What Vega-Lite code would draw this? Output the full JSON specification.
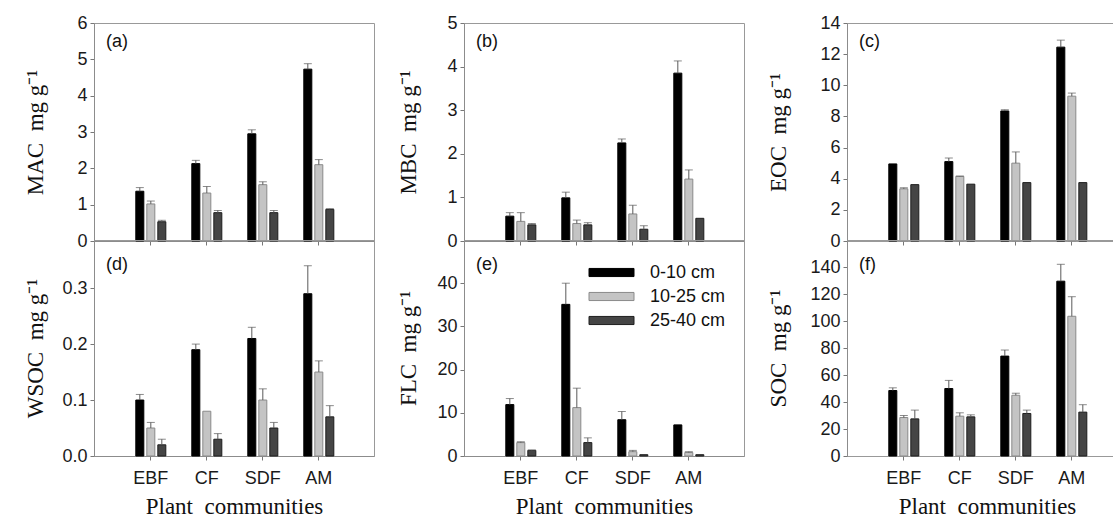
{
  "$schema": "https://vega.github.io/schema/vega-lite/v6.json",
  "background": "white",
  "padding": {"left": 23, "top": 13, "right": 0, "bottom": 0},
  "spacing": 217,
  "bounds": "flush",
  "resolve": {"scale": {"x": "independent", "y": "independent", "xOffset": "independent", "fill": "independent", "stroke": "independent"}},
  "config": {
    "view": {"stroke": "#999999", "strokeWidth": 1},
    "axis": {"labelFont": "Liberation Sans", "labelFontSize": 18, "labelColor": "#1a1a1a", "domainColor": "#8c8c8c", "tickColor": "#777777", "tickSize": 4, "grid": false, "titleFont": "Liberation Serif", "titleFontSize": 23, "titleFontWeight": "normal", "titleColor": "#111111", "labelPadding": 3, "labelOverlap": false},
    "axisY": {"titleBaseline": "alphabetic", "titleAngle": 270, "labelOverlap": false, "tickCount": 12},
    "title": {"anchor": "start", "frame": "group", "dx": 12, "baseline": "top", "fontSize": 18, "font": "Liberation Sans", "fontWeight": "normal", "color": "#111111"},
    "tick": {"thickness": 1}
  },
  "data": {"values": [
    {"p":"a","c":"EBF","d":"0-10 cm","v":1.37,"hi":1.47},{"p":"a","c":"EBF","d":"10-25 cm","v":1.02,"hi":1.10},{"p":"a","c":"EBF","d":"25-40 cm","v":0.53,"hi":0.57},
    {"p":"a","c":"CF","d":"0-10 cm","v":2.13,"hi":2.22},{"p":"a","c":"CF","d":"10-25 cm","v":1.32,"hi":1.50},{"p":"a","c":"CF","d":"25-40 cm","v":0.78,"hi":0.84},
    {"p":"a","c":"SDF","d":"0-10 cm","v":2.95,"hi":3.06},{"p":"a","c":"SDF","d":"10-25 cm","v":1.55,"hi":1.63},{"p":"a","c":"SDF","d":"25-40 cm","v":0.78,"hi":0.84},
    {"p":"a","c":"AM","d":"0-10 cm","v":4.73,"hi":4.88},{"p":"a","c":"AM","d":"10-25 cm","v":2.10,"hi":2.24},{"p":"a","c":"AM","d":"25-40 cm","v":0.87,"hi":0.89},
    {"p":"b","c":"EBF","d":"0-10 cm","v":0.57,"hi":0.65},{"p":"b","c":"EBF","d":"10-25 cm","v":0.45,"hi":0.65},{"p":"b","c":"EBF","d":"25-40 cm","v":0.37,"hi":0.40},
    {"p":"b","c":"CF","d":"0-10 cm","v":0.99,"hi":1.12},{"p":"b","c":"CF","d":"10-25 cm","v":0.40,"hi":0.48},{"p":"b","c":"CF","d":"25-40 cm","v":0.37,"hi":0.42},
    {"p":"b","c":"SDF","d":"0-10 cm","v":2.25,"hi":2.34},{"p":"b","c":"SDF","d":"10-25 cm","v":0.62,"hi":0.82},{"p":"b","c":"SDF","d":"25-40 cm","v":0.27,"hi":0.35},
    {"p":"b","c":"AM","d":"0-10 cm","v":3.85,"hi":4.13},{"p":"b","c":"AM","d":"10-25 cm","v":1.42,"hi":1.63},{"p":"b","c":"AM","d":"25-40 cm","v":0.52,"hi":0.52},
    {"p":"c","c":"EBF","d":"0-10 cm","v":4.95,"hi":4.95},{"p":"c","c":"EBF","d":"10-25 cm","v":3.35,"hi":3.42},{"p":"c","c":"EBF","d":"25-40 cm","v":3.62,"hi":3.62},
    {"p":"c","c":"CF","d":"0-10 cm","v":5.10,"hi":5.33},{"p":"c","c":"CF","d":"10-25 cm","v":4.15,"hi":4.17},{"p":"c","c":"CF","d":"25-40 cm","v":3.65,"hi":3.65},
    {"p":"c","c":"SDF","d":"0-10 cm","v":8.35,"hi":8.43},{"p":"c","c":"SDF","d":"10-25 cm","v":5.00,"hi":5.72},{"p":"c","c":"SDF","d":"25-40 cm","v":3.75,"hi":3.75},
    {"p":"c","c":"AM","d":"0-10 cm","v":12.45,"hi":12.9},{"p":"c","c":"AM","d":"10-25 cm","v":9.30,"hi":9.50},{"p":"c","c":"AM","d":"25-40 cm","v":3.75,"hi":3.75},
    {"p":"d","c":"EBF","d":"0-10 cm","v":0.10,"hi":0.11},{"p":"d","c":"EBF","d":"10-25 cm","v":0.05,"hi":0.06},{"p":"d","c":"EBF","d":"25-40 cm","v":0.02,"hi":0.03},
    {"p":"d","c":"CF","d":"0-10 cm","v":0.19,"hi":0.20},{"p":"d","c":"CF","d":"10-25 cm","v":0.08,"hi":0.08},{"p":"d","c":"CF","d":"25-40 cm","v":0.03,"hi":0.04},
    {"p":"d","c":"SDF","d":"0-10 cm","v":0.21,"hi":0.23},{"p":"d","c":"SDF","d":"10-25 cm","v":0.10,"hi":0.12},{"p":"d","c":"SDF","d":"25-40 cm","v":0.05,"hi":0.06},
    {"p":"d","c":"AM","d":"0-10 cm","v":0.29,"hi":0.34},{"p":"d","c":"AM","d":"10-25 cm","v":0.15,"hi":0.17},{"p":"d","c":"AM","d":"25-40 cm","v":0.07,"hi":0.09},
    {"p":"e","c":"EBF","d":"0-10 cm","v":11.9,"hi":13.3},{"p":"e","c":"EBF","d":"10-25 cm","v":3.1,"hi":3.3},{"p":"e","c":"EBF","d":"25-40 cm","v":1.3,"hi":1.4},
    {"p":"e","c":"CF","d":"0-10 cm","v":35.1,"hi":40.0},{"p":"e","c":"CF","d":"10-25 cm","v":11.2,"hi":15.7},{"p":"e","c":"CF","d":"25-40 cm","v":3.1,"hi":4.2},
    {"p":"e","c":"SDF","d":"0-10 cm","v":8.4,"hi":10.3},{"p":"e","c":"SDF","d":"10-25 cm","v":1.0,"hi":1.3},{"p":"e","c":"SDF","d":"25-40 cm","v":0.3,"hi":0.3},
    {"p":"e","c":"AM","d":"0-10 cm","v":7.2,"hi":7.2},{"p":"e","c":"AM","d":"10-25 cm","v":0.8,"hi":1.0},{"p":"e","c":"AM","d":"25-40 cm","v":0.3,"hi":0.3},
    {"p":"f","c":"EBF","d":"0-10 cm","v":48.5,"hi":50.5},{"p":"f","c":"EBF","d":"10-25 cm","v":28.5,"hi":30},{"p":"f","c":"EBF","d":"25-40 cm","v":27.5,"hi":34},
    {"p":"f","c":"CF","d":"0-10 cm","v":50,"hi":56},{"p":"f","c":"CF","d":"10-25 cm","v":29.5,"hi":32},{"p":"f","c":"CF","d":"25-40 cm","v":29,"hi":30.5},
    {"p":"f","c":"SDF","d":"0-10 cm","v":74,"hi":78.5},{"p":"f","c":"SDF","d":"10-25 cm","v":45,"hi":46.5},{"p":"f","c":"SDF","d":"25-40 cm","v":31.5,"hi":34},
    {"p":"f","c":"AM","d":"0-10 cm","v":129.5,"hi":142},{"p":"f","c":"AM","d":"10-25 cm","v":103.5,"hi":118},{"p":"f","c":"AM","d":"25-40 cm","v":32.5,"hi":38}
  ]},
  "vconcat": [
    {
      "spacing": 21,
      "bounds": "full",
      "resolve": {"scale": {"x": "independent", "y": "independent", "xOffset": "independent", "fill": "independent", "stroke": "independent"}},
      "hconcat": [
        {
          "width": 280, "height": 218,
          "title": {"text": "(a)", "offset": -13, "dy": 24},
          "transform": [{"filter": "datum.p === 'a'"}],
          "encoding": {
            "x": {"field": "c", "type": "nominal", "sort": ["EBF","CF","SDF","AM"], "scale": {"range": [0, 280], "paddingInner": 0.464, "paddingOuter": 0.732, "align": 0.51}, "axis": {"labels": false, "title": null}},
            "xOffset": {"field": "d", "type": "nominal", "sort": ["0-10 cm","10-25 cm","25-40 cm"], "scale": {"paddingInner": 0.273, "paddingOuter": 0}}
          },
          "layer": [
            {"mark": {"type": "bar", "strokeWidth": 1},
             "encoding": {
               "y": {"field": "v", "type": "quantitative", "stack": null, "scale": {"domain": [0, 6], "nice": false}, "axis": {"values": [0,1,2,3,4,5,6], "format": "d", "tickCount": 12, "labelOverlap": false, "title": "MAC\u00a0\u00a0mg g⁻¹", "titleX": -52}},
               "fill": {"field": "d", "type": "nominal", "scale": {"domain": ["0-10 cm","10-25 cm","25-40 cm"], "range": ["#000000","#c4c4c4","#454545"]}, "legend": null},
               "stroke": {"field": "d", "type": "nominal", "scale": {"domain": ["0-10 cm","10-25 cm","25-40 cm"], "range": ["#000000","#8a8a8a","#1e1e1e"]}, "legend": null}
             }},
            {"transform": [{"filter": "datum.hi > datum.v"}], "mark": {"type": "rule", "color": "#5a5a5a", "strokeWidth": 1}, "encoding": {"y": {"field": "v", "type": "quantitative"}, "y2": {"field": "hi"}}},
            {"transform": [{"filter": "datum.hi > datum.v"}], "mark": {"type": "tick", "color": "#5a5a5a", "thickness": 1}, "encoding": {"y": {"field": "hi", "type": "quantitative"}, "size": {"value": 8}}}
          ]
        },
        {
          "width": 280, "height": 218,
          "title": {"text": "(b)", "offset": -13, "dy": 24},
          "transform": [{"filter": "datum.p === 'b'"}],
          "encoding": {
            "x": {"field": "c", "type": "nominal", "sort": ["EBF","CF","SDF","AM"], "scale": {"range": [0, 280], "paddingInner": 0.464, "paddingOuter": 0.732, "align": 0.51}, "axis": {"labels": false, "title": null}},
            "xOffset": {"field": "d", "type": "nominal", "sort": ["0-10 cm","10-25 cm","25-40 cm"], "scale": {"paddingInner": 0.273, "paddingOuter": 0}}
          },
          "layer": [
            {"mark": {"type": "bar", "strokeWidth": 1},
             "encoding": {
               "y": {"field": "v", "type": "quantitative", "stack": null, "scale": {"domain": [0, 5], "nice": false}, "axis": {"values": [0,1,2,3,4,5], "format": "d", "tickCount": 12, "labelOverlap": false, "title": "MBC\u00a0\u00a0mg g⁻¹", "titleX": -49}},
               "fill": {"field": "d", "type": "nominal", "scale": {"domain": ["0-10 cm","10-25 cm","25-40 cm"], "range": ["#000000","#c4c4c4","#454545"]}, "legend": null},
               "stroke": {"field": "d", "type": "nominal", "scale": {"domain": ["0-10 cm","10-25 cm","25-40 cm"], "range": ["#000000","#8a8a8a","#1e1e1e"]}, "legend": null}
             }},
            {"transform": [{"filter": "datum.hi > datum.v"}], "mark": {"type": "rule", "color": "#5a5a5a", "strokeWidth": 1}, "encoding": {"y": {"field": "v", "type": "quantitative"}, "y2": {"field": "hi"}}},
            {"transform": [{"filter": "datum.hi > datum.v"}], "mark": {"type": "tick", "color": "#5a5a5a", "thickness": 1}, "encoding": {"y": {"field": "hi", "type": "quantitative"}, "size": {"value": 8}}}
          ]
        },
        {
          "width": 268, "height": 218,
          "title": {"text": "(c)", "offset": -13, "dy": 24},
          "transform": [{"filter": "datum.p === 'c'"}],
          "encoding": {
            "x": {"field": "c", "type": "nominal", "sort": ["EBF","CF","SDF","AM"], "scale": {"range": [0, 280], "paddingInner": 0.464, "paddingOuter": 0.732, "align": 0.51}, "axis": {"labels": false, "title": null, "domain": false}},
            "xOffset": {"field": "d", "type": "nominal", "sort": ["0-10 cm","10-25 cm","25-40 cm"], "scale": {"paddingInner": 0.273, "paddingOuter": 0}}
          },
          "layer": [
            {"mark": {"type": "bar", "strokeWidth": 1},
             "encoding": {
               "y": {"field": "v", "type": "quantitative", "stack": null, "scale": {"domain": [0, 14], "nice": false}, "axis": {"values": [0,2,4,6,8,10,12,14], "format": "d", "tickCount": 12, "labelOverlap": false, "title": "EOC\u00a0\u00a0mg g⁻¹", "titleX": -62}},
               "fill": {"field": "d", "type": "nominal", "scale": {"domain": ["0-10 cm","10-25 cm","25-40 cm"], "range": ["#000000","#c4c4c4","#454545"]}, "legend": null},
               "stroke": {"field": "d", "type": "nominal", "scale": {"domain": ["0-10 cm","10-25 cm","25-40 cm"], "range": ["#000000","#8a8a8a","#1e1e1e"]}, "legend": null}
             }},
            {"transform": [{"filter": "datum.hi > datum.v"}], "mark": {"type": "rule", "color": "#5a5a5a", "strokeWidth": 1}, "encoding": {"y": {"field": "v", "type": "quantitative"}, "y2": {"field": "hi"}}},
            {"transform": [{"filter": "datum.hi > datum.v"}], "mark": {"type": "tick", "color": "#5a5a5a", "thickness": 1}, "encoding": {"y": {"field": "hi", "type": "quantitative"}, "size": {"value": 8}}}
          ]
        }
      ]
    },
    {
      "spacing": 21,
      "bounds": "full",
      "resolve": {"scale": {"x": "independent", "y": "independent", "xOffset": "independent", "fill": "independent", "stroke": "independent"}},
      "hconcat": [
        {
          "width": 280, "height": 216,
          "title": {"text": "(d)", "offset": -15, "dy": 19},
          "transform": [{"filter": "datum.p === 'd'"}],
          "encoding": {
            "x": {"field": "c", "type": "nominal", "sort": ["EBF","CF","SDF","AM"], "scale": {"range": [0, 280], "paddingInner": 0.464, "paddingOuter": 0.732, "align": 0.51}, "axis": {"title": "Plant\u00a0\u00a0communities", "labelAngle": 0, "labelPadding": 9, "titlePadding": 8}},
            "xOffset": {"field": "d", "type": "nominal", "sort": ["0-10 cm","10-25 cm","25-40 cm"], "scale": {"paddingInner": 0.273, "paddingOuter": 0}}
          },
          "layer": [
            {"mark": {"type": "bar", "strokeWidth": 1},
             "encoding": {
               "y": {"field": "v", "type": "quantitative", "stack": null, "scale": {"domain": [0, 0.386], "nice": false}, "axis": {"values": [0,0.1,0.2,0.3], "tickCount": 12, "labelOverlap": false, "format": ".1f", "title": "WSOC\u00a0\u00a0mg g⁻¹", "titleX": -52}},
               "fill": {"field": "d", "type": "nominal", "scale": {"domain": ["0-10 cm","10-25 cm","25-40 cm"], "range": ["#000000","#c4c4c4","#454545"]}, "legend": null},
               "stroke": {"field": "d", "type": "nominal", "scale": {"domain": ["0-10 cm","10-25 cm","25-40 cm"], "range": ["#000000","#8a8a8a","#1e1e1e"]}, "legend": null}
             }},
            {"transform": [{"filter": "datum.hi > datum.v"}], "mark": {"type": "rule", "color": "#5a5a5a", "strokeWidth": 1}, "encoding": {"y": {"field": "v", "type": "quantitative"}, "y2": {"field": "hi"}}},
            {"transform": [{"filter": "datum.hi > datum.v"}], "mark": {"type": "tick", "color": "#5a5a5a", "thickness": 1}, "encoding": {"y": {"field": "hi", "type": "quantitative"}, "size": {"value": 8}}}
          ]
        },
        {
          "width": 280, "height": 216,
          "title": {"text": "(e)", "offset": -15, "dy": 19},
          "transform": [{"filter": "datum.p === 'e'"}],
          "encoding": {
            "x": {"field": "c", "type": "nominal", "sort": ["EBF","CF","SDF","AM"], "scale": {"range": [0, 280], "paddingInner": 0.464, "paddingOuter": 0.732, "align": 0.51}, "axis": {"title": "Plant\u00a0\u00a0communities", "labelAngle": 0, "labelPadding": 9, "titlePadding": 8}},
            "xOffset": {"field": "d", "type": "nominal", "sort": ["0-10 cm","10-25 cm","25-40 cm"], "scale": {"paddingInner": 0.273, "paddingOuter": 0}}
          },
          "layer": [
            {"mark": {"type": "bar", "strokeWidth": 1},
             "encoding": {
               "y": {"field": "v", "type": "quantitative", "stack": null, "scale": {"domain": [0, 50], "nice": false}, "axis": {"values": [0,10,20,30,40], "format": "d", "tickCount": 12, "labelOverlap": false, "title": "FLC\u00a0\u00a0mg g⁻¹", "titleX": -49}},
               "fill": {"field": "d", "type": "nominal", "scale": {"domain": ["0-10 cm","10-25 cm","25-40 cm"], "range": ["#000000","#c4c4c4","#454545"]},
                 "legend": {"orient": "none", "legendX": 138, "legendY": 23, "title": null, "symbolType": "M-2.5,-0.45H2.5V0.45H-2.5Z", "symbolSize": 324, "symbolStrokeWidth": 1, "labelFont": "Liberation Sans", "labelFontSize": 18, "labelColor": "#111111", "labelOffset": 29, "rowPadding": 5, "padding": 0}},
               "stroke": {"field": "d", "type": "nominal", "scale": {"domain": ["0-10 cm","10-25 cm","25-40 cm"], "range": ["#000000","#8a8a8a","#1e1e1e"]}}
             }},
            {"transform": [{"filter": "datum.hi > datum.v"}], "mark": {"type": "rule", "color": "#5a5a5a", "strokeWidth": 1}, "encoding": {"y": {"field": "v", "type": "quantitative"}, "y2": {"field": "hi"}}},
            {"transform": [{"filter": "datum.hi > datum.v"}], "mark": {"type": "tick", "color": "#5a5a5a", "thickness": 1}, "encoding": {"y": {"field": "hi", "type": "quantitative"}, "size": {"value": 8}}}
          ]
        },
        {
          "width": 268, "height": 216,
          "title": {"text": "(f)", "offset": -15, "dy": 19},
          "transform": [{"filter": "datum.p === 'f'"}],
          "encoding": {
            "x": {"field": "c", "type": "nominal", "sort": ["EBF","CF","SDF","AM"], "scale": {"range": [0, 280], "paddingInner": 0.464, "paddingOuter": 0.732, "align": 0.51}, "axis": {"title": "Plant\u00a0\u00a0communities", "labelAngle": 0, "labelPadding": 9, "titlePadding": 8, "domain": false}},
            "xOffset": {"field": "d", "type": "nominal", "sort": ["0-10 cm","10-25 cm","25-40 cm"], "scale": {"paddingInner": 0.273, "paddingOuter": 0}}
          },
          "layer": [
            {"mark": {"type": "bar", "strokeWidth": 1},
             "encoding": {
               "y": {"field": "v", "type": "quantitative", "stack": null, "scale": {"domain": [0, 160], "nice": false}, "axis": {"values": [0,20,40,60,80,100,120,140], "format": "d", "tickCount": 12, "labelOverlap": false, "title": "SOC\u00a0\u00a0mg g⁻¹", "titleX": -62}},
               "fill": {"field": "d", "type": "nominal", "scale": {"domain": ["0-10 cm","10-25 cm","25-40 cm"], "range": ["#000000","#c4c4c4","#454545"]}, "legend": null},
               "stroke": {"field": "d", "type": "nominal", "scale": {"domain": ["0-10 cm","10-25 cm","25-40 cm"], "range": ["#000000","#8a8a8a","#1e1e1e"]}, "legend": null}
             }},
            {"transform": [{"filter": "datum.hi > datum.v"}], "mark": {"type": "rule", "color": "#5a5a5a", "strokeWidth": 1}, "encoding": {"y": {"field": "v", "type": "quantitative"}, "y2": {"field": "hi"}}},
            {"transform": [{"filter": "datum.hi > datum.v"}], "mark": {"type": "tick", "color": "#5a5a5a", "thickness": 1}, "encoding": {"y": {"field": "hi", "type": "quantitative"}, "size": {"value": 8}}}
          ]
        }
      ]
    }
  ]
}
